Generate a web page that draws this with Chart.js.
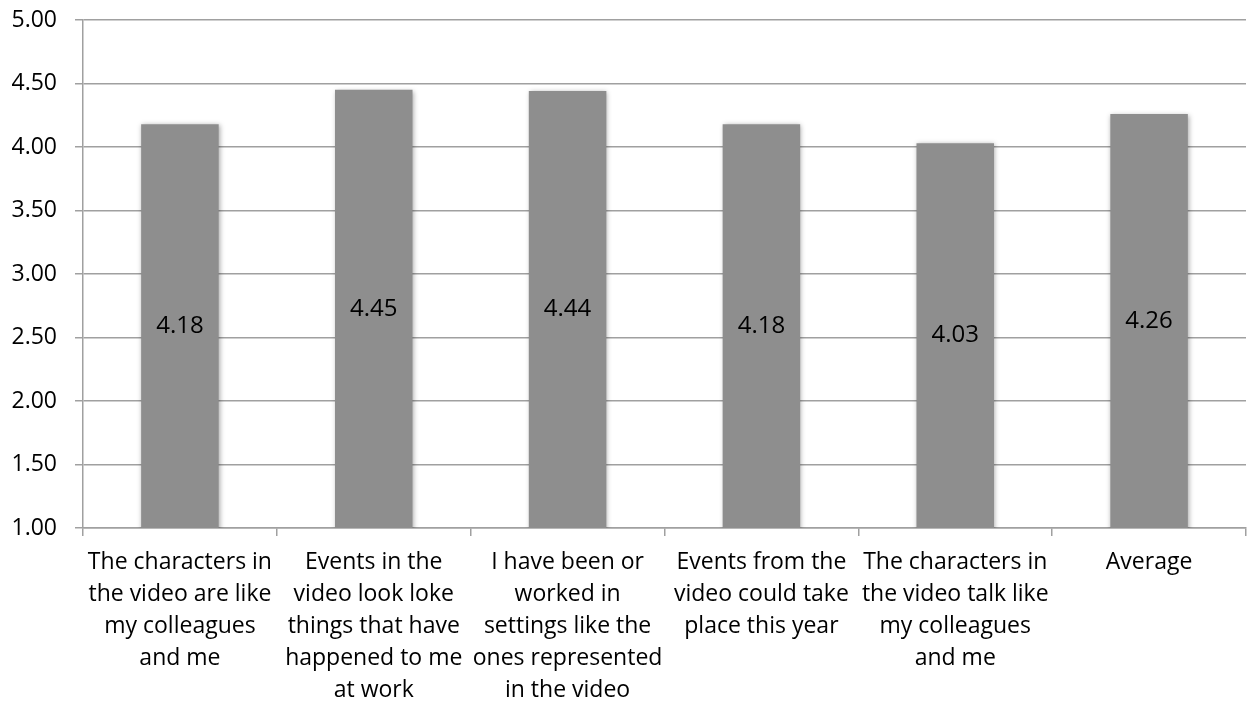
<!DOCTYPE html>
<html>
<head>
<meta charset="utf-8">
<script src="https://cdn.jsdelivr.net/npm/chart.js@4"></script>
<style>
  html, body { margin: 0; padding: 0; background: #fff; }
  #wrap { width: 1249px; height: 701px; }
</style>
</head>
<body>
<div id="wrap"><canvas id="chart"></canvas></div>
<script>
// data
const categories = [
    ["The characters in", "the video are like", "my colleagues", "and me"],
    ["Events in the", "video look loke", "things that have", "happened to me", "at work"],
    ["I have been or", "worked in", "settings like the", "ones represented", "in the video"],
    ["Events from the", "video could take", "place this year"],
    ["The characters in", "the video talk like", "my colleagues", "and me"],
    ["Average"],
];
const scores = [4.18, 4.45, 4.44, 4.18, 4.03, 4.26];
const yTicks = [1, 1.5, 2, 2.5, 3, 3.5, 4, 4.5, 5];

const FONT = "'Open Sans', 'DejaVu Sans', sans-serif";

// soft drop shadow behind the bars
const barShadow = {
    id: "barShadow",
    beforeDatasetsDraw(chart) {
        const ctx = chart.ctx;
        ctx.save();
        ctx.shadowColor = "rgba(0,0,0,0.35)";
        ctx.shadowBlur = 5;
        ctx.shadowOffsetX = 1;
        ctx.shadowOffsetY = 1;
    },
    afterDatasetsDraw(chart) {
        chart.ctx.restore();
    },
};

// value label in the middle of each bar
const valueLabels = {
    id: "valueLabels",
    afterDatasetsDraw(chart) {
        const ctx = chart.ctx;
        const meta = chart.getDatasetMeta(0);
        const bottom = chart.chartArea.bottom;
        ctx.save();
        ctx.font = "24px " + FONT;
        ctx.fillStyle = "#000";
        ctx.textAlign = "center";
        ctx.textBaseline = "middle";
        meta.data.forEach((bar, i) => {
            const mid = (bar.y + Math.min(bar.base, bottom)) / 2;
            ctx.fillText(scores[i].toFixed(2), bar.x, mid);
        });
        ctx.restore();
    },
};

const ctx = document.getElementById("chart").getContext("2d");
new Chart(ctx, {
    type: "bar",
    data: {
        labels: categories,
        datasets: [{
            data: scores,
            backgroundColor: "#8e8e8e",
            borderWidth: 0,
            categoryPercentage: 1,
            barPercentage: 0.4,
        }],
    },
    options: {
        responsive: true,
        maintainAspectRatio: false,
        animation: false,
        layout: { padding: { top: 20, right: 3, left: 0, bottom: -15 } },
        plugins: {
            legend: { display: false },
            tooltip: { enabled: false },
        },
        scales: {
            x: {
                offset: true,
                grid: {
                    offset: true,
                    drawOnChartArea: false,
                    drawTicks: true,
                    tickLength: 8,
                    color: "#a0a0a0",
                    lineWidth: 1.5,
                },
                border: { color: "#a0a0a0", width: 1.5 },
                ticks: {
                    color: "#000",
                    font: { family: FONT, size: 23, lineHeight: 32 / 23 },
                    maxRotation: 0,
                    minRotation: 0,
                    autoSkip: false,
                    padding: 10,
                },
            },
            y: {
                min: 1,
                max: 5,
                afterBuildTicks(axis) {
                    axis.ticks = yTicks.map((v) => ({ value: v }));
                },
                afterFit(axis) {
                    axis.paddingTop = 0;
                    axis.width = 83;
                },
                grid: {
                    color: "#a0a0a0",
                    lineWidth: 1.5,
                    tickLength: 8,
                },
                border: { color: "#a0a0a0", width: 1.5 },
                ticks: {
                    color: "#000",
                    font: { family: FONT, size: 23 },
                    padding: 18,
                    callback: (v) => Number(v).toFixed(2),
                },
            },
        },
    },
    plugins: [barShadow, valueLabels],
});
</script>
</body>
</html>
